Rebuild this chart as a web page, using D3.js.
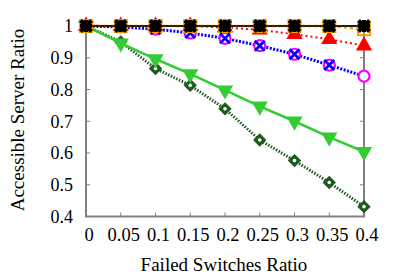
<!DOCTYPE html>
<html>
<head>
<meta charset="utf-8">
<script src="https://cdn.jsdelivr.net/npm/d3@7"></script>
<style>
  body { margin: 0; background: #fff; }
  text { font-family: "Liberation Serif", "Times New Roman", serif; }
</style>
</head>
<body>
<div id="chart"></div>
<script>
var ratios = [0, 0.05, 0.1, 0.15, 0.2, 0.25, 0.3, 0.35, 0.4];
var xTickLabels = ["0", "0.05", "0.1", "0.15", "0.2", "0.25", "0.3", "0.35", "0.4"];
var yTicks = [0.4, 0.5, 0.6, 0.7, 0.8, 0.9, 1];

var diamondVals = [1, 0.95, 0.866, 0.813, 0.739, 0.641, 0.576, 0.507, 0.431];
var greenVals = [1, 0.946, 0.896, 0.849, 0.798, 0.747, 0.700, 0.650, 0.604];
var circleVals = [1, 0.997, 0.99, 0.978, 0.961, 0.938, 0.911, 0.877, 0.842];
var blueXVals = [1, 0.997, 0.99, 0.978, 0.961, 0.938, 0.911, 0.877];
var redVals = [1, 1, 1, 1, 0.995, 0.988, 0.974, 0.958, 0.938];
var orangeVals = [1, 1, 1, 1, 1, 1, 1, 1, 0.99];
var blackVals = [1, 1, 1, 1, 1, 1, 1, 1, 1];

var W = 399, H = 279;
var plotLeft = 86, plotRight = 364, plotTop = 26, plotBottom = 216.5;

var svg = d3.select("#chart").append("svg")
  .attr("width", W).attr("height", H);

var x = d3.scaleLinear().domain([0, 0.4]).range([plotLeft, plotRight]);
var y = d3.scaleLinear().domain([0.4, 1]).range([plotBottom, plotTop]);

var axisColor = "#808080";

// frame
svg.append("rect")
  .attr("x", plotLeft).attr("y", plotTop)
  .attr("width", plotRight - plotLeft).attr("height", plotBottom - plotTop)
  .attr("fill", "none").attr("stroke", axisColor).attr("stroke-width", 2);

// ticks (inward)
var ticks = svg.append("g").attr("stroke", axisColor).attr("stroke-width", 1);
yTicks.forEach(function (v) {
  ticks.append("line").attr("x1", plotLeft).attr("x2", plotLeft + 4).attr("y1", y(v)).attr("y2", y(v));
  ticks.append("line").attr("x1", plotRight).attr("x2", plotRight - 4).attr("y1", y(v)).attr("y2", y(v));
});
ratios.forEach(function (v) {
  ticks.append("line").attr("x1", x(v)).attr("x2", x(v)).attr("y1", plotBottom).attr("y2", plotBottom - 4);
  ticks.append("line").attr("x1", x(v)).attr("x2", x(v)).attr("y1", plotTop).attr("y2", plotTop + 4);
});

// tick labels
svg.append("g").selectAll("text").data(yTicks).join("text")
  .attr("x", plotLeft - 13).attr("y", function (d) { return y(d); })
  .attr("dy", "0.35em")
  .attr("text-anchor", "end")
  .attr("font-size", "18px")
  .text(function (d) { return d3.format("")(d); });

svg.append("g").selectAll("text").data(ratios).join("text")
  .attr("x", function (d) { return x(d) + 3; }).attr("y", 241)
  .attr("text-anchor", "middle")
  .attr("font-size", "18.5px")
  .text(function (d, i) { return xTickLabels[i]; });

svg.append("text")
  .attr("x", 224).attr("y", 271)
  .attr("text-anchor", "middle")
  .attr("font-size", "19px")
  .text("Failed Switches Ratio");

svg.append("text")
  .attr("transform", "translate(24,120) rotate(-90)")
  .attr("text-anchor", "middle")
  .attr("font-size", "19px")
  .text("Accessible Server Ratio");

var line = d3.line()
  .x(function (d, i) { return x(ratios[i]); })
  .y(function (d) { return y(d); });

function drawLine(vals, color, width, dash) {
  svg.append("path").datum(vals)
    .attr("d", line)
    .attr("fill", "none")
    .attr("stroke", color)
    .attr("stroke-width", width)
    .attr("stroke-dasharray", dash || null);
}

function points(vals) {
  return svg.append("g").selectAll("g").data(vals).join("g")
    .attr("transform", function (d, i) { return "translate(" + x(ratios[i]) + "," + y(d) + ")"; });
}

// dark green diamonds, dotted
drawLine(diamondVals, "#1f5a1f", 3, "1.5,1.5");
var dm = points(diamondVals);
dm.append("path").attr("d", d3.symbol(d3.symbolSquare, 90)()).attr("transform", "rotate(45)")
  .attr("fill", "#1f5a1f");
dm.append("circle").attr("r", 1.8).attr("fill", "#fff");

// green down triangles, solid
drawLine(greenVals, "#33cc33", 2.5);
points(greenVals).append("path")
  .attr("d", d3.symbol(d3.symbolTriangle, 115)())
  .attr("transform", "rotate(180)")
  .attr("fill", "#33cc33");

// magenta open circles + blue dotted line with X
drawLine(circleVals, "#0000ff", 3, "2,1.5");
points(circleVals).append("circle").attr("r", 5.5)
  .attr("fill", "#fff").attr("stroke", "#ff00ff").attr("stroke-width", 2.2);
points(blueXVals).append("path")
  .attr("d", "M-5,-5L5,5M-5,5L5,-5")
  .attr("stroke", "#0000ff").attr("stroke-width", 2.8);

// red triangles, dotted
drawLine(redVals, "#ff0000", 2, "2,3");
points(redVals).append("path")
  .attr("d", d3.symbol(d3.symbolTriangle, 115)())
  .attr("fill", "#ff0000");

// orange open squares, dashed
drawLine(orangeVals, "#ff9900", 2.5, "3,3");
points(orangeVals).append("rect")
  .attr("x", -6).attr("y", -6).attr("width", 12).attr("height", 12)
  .attr("fill", "none").attr("stroke", "#ff9900").attr("stroke-width", 2);

// black solid with star markers
drawLine(blackVals, "#000000", 1.5);
points(blackVals).append("path")
  .attr("d", "M-5.5,-5.5L5.5,5.5M-5.5,5.5L5.5,-5.5M-6,0L6,0M0,-6L0,6")
  .attr("stroke", "#000").attr("stroke-width", 4);
</script>
</body>
</html>
